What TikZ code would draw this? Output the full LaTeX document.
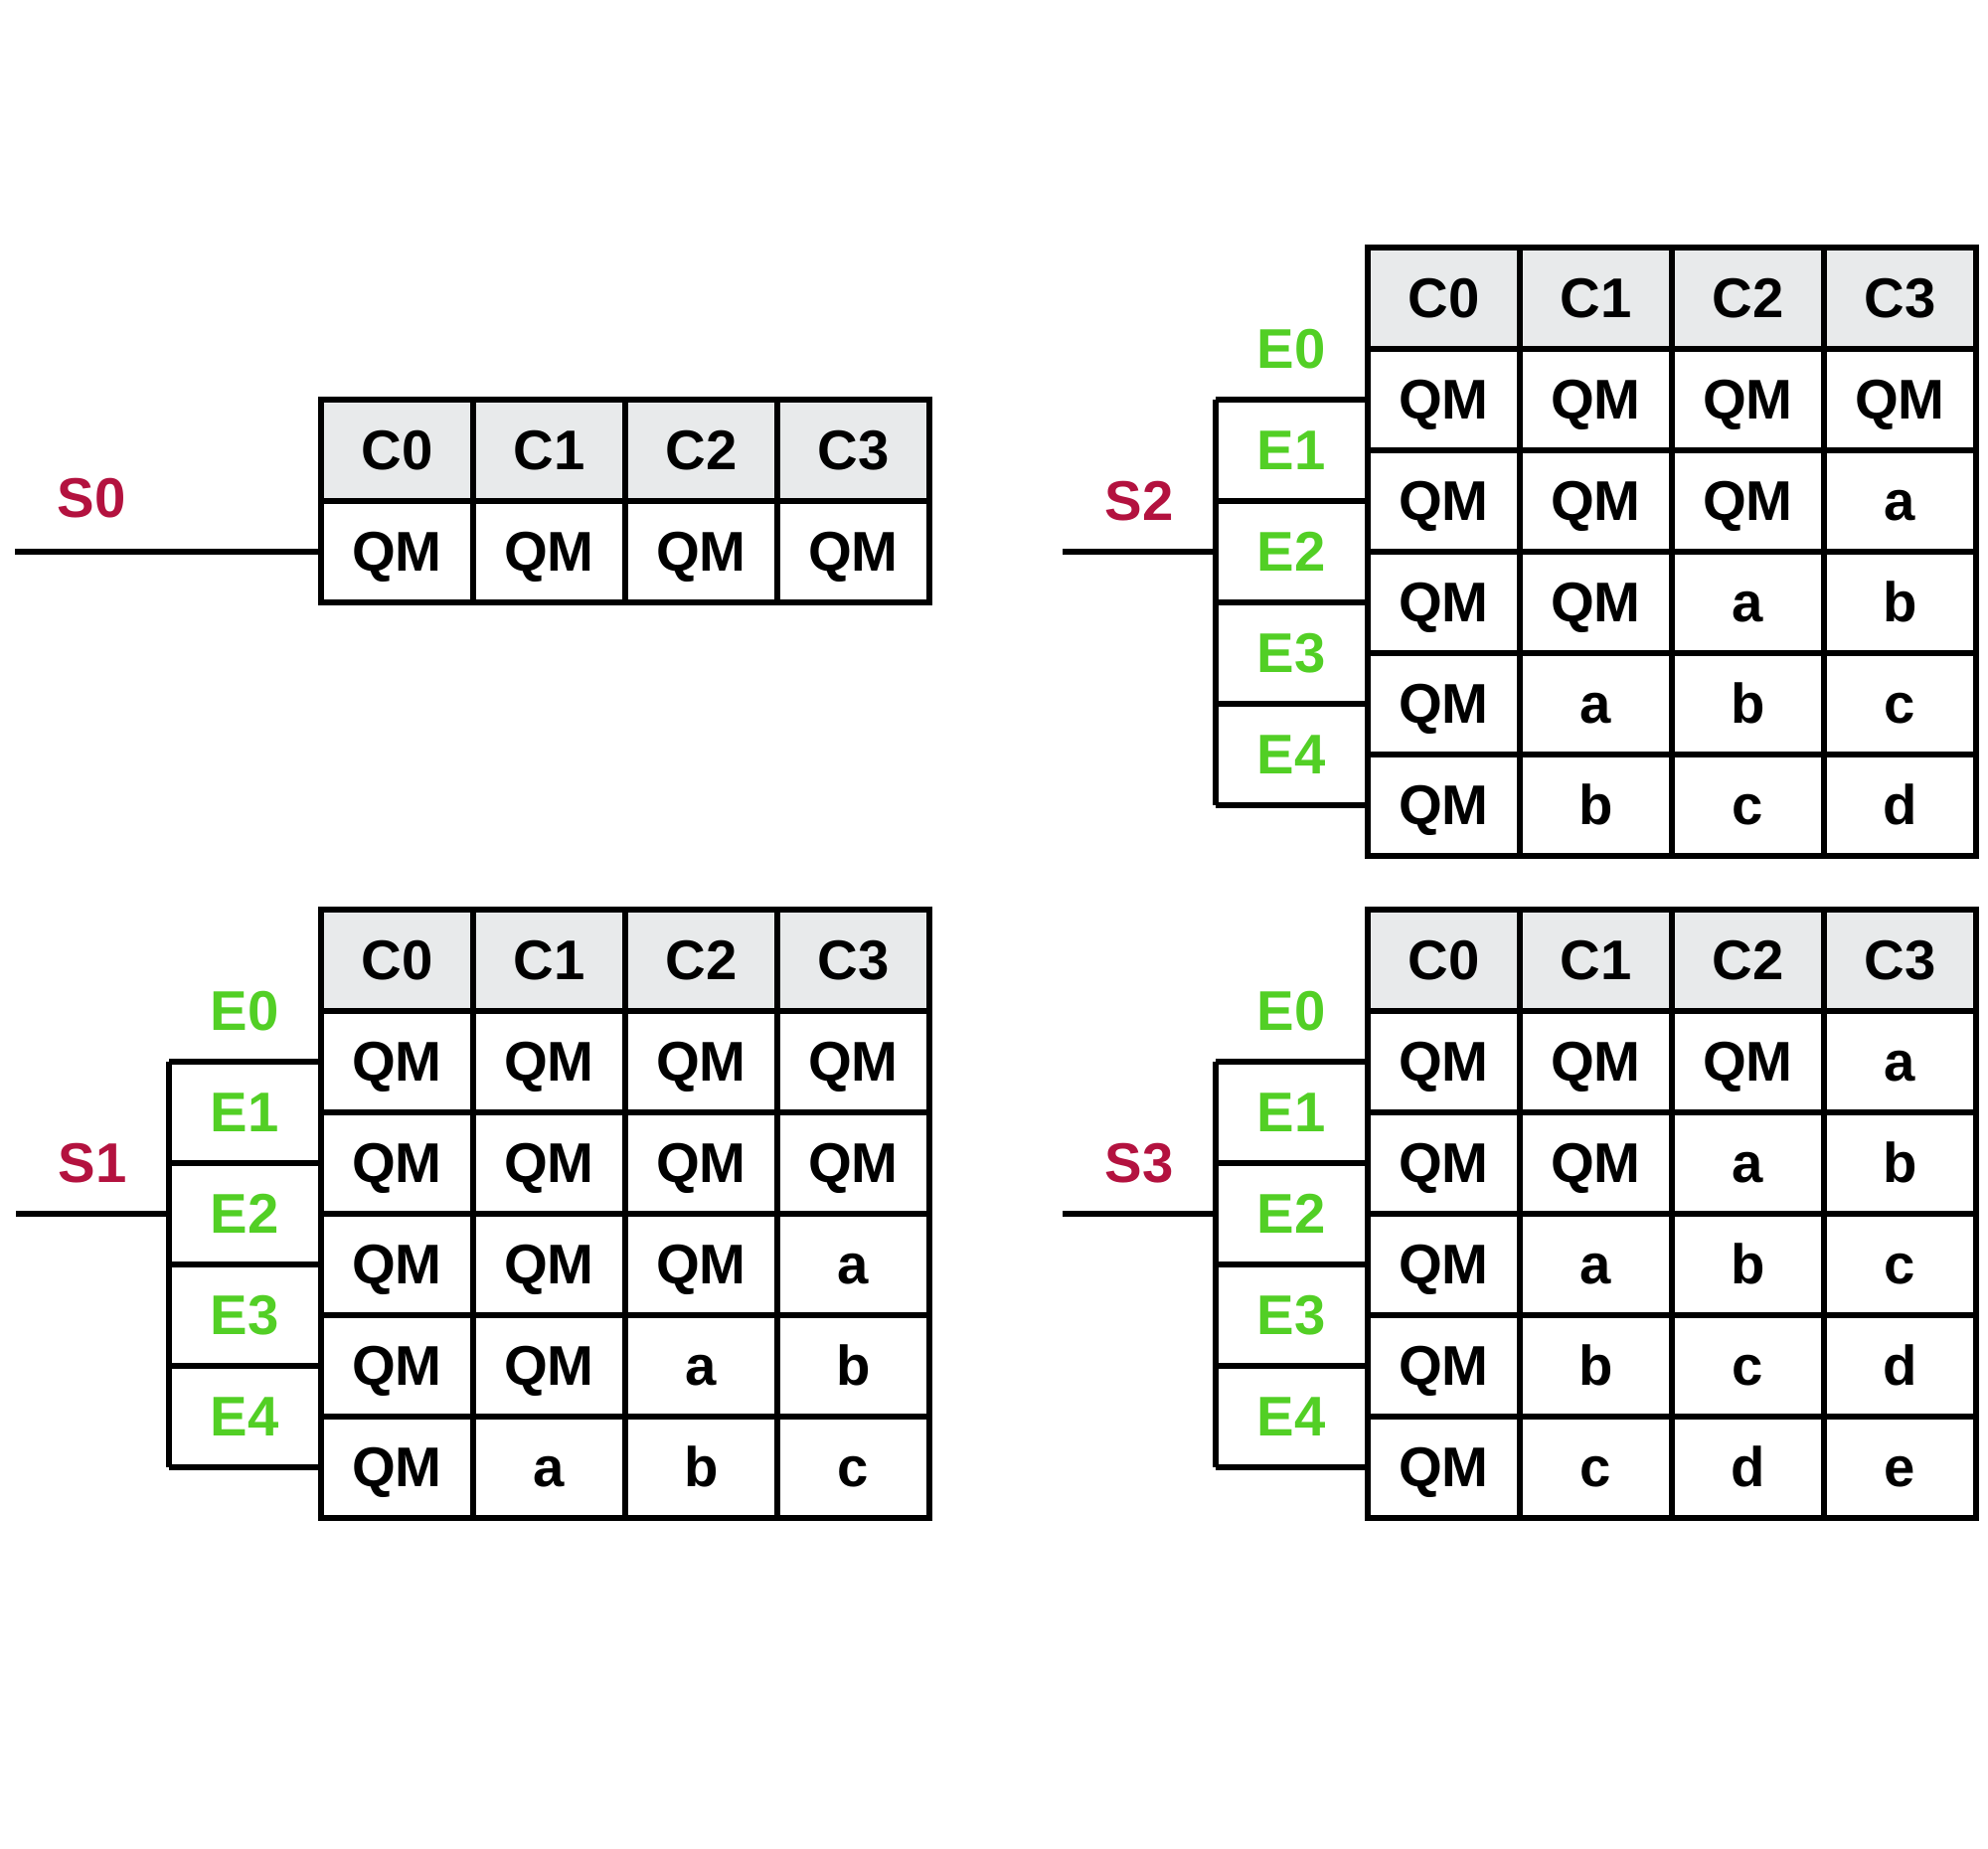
\documentclass[tikz,border=0pt]{standalone}
\usepackage{fontspec}
\setmainfont{Liberation Sans}
\usetikzlibrary{positioning}
\definecolor{headgray}{HTML}{E8EAEB}
\definecolor{scol}{HTML}{B3123F}
\definecolor{ecol}{HTML}{52CF25}

\begin{document}
\begin{tikzpicture}[
  x=0.01cm, y=-0.01cm, font=\fontsize{16}{19}\selectfont\bfseries, line width=1.5pt,
  txt/.style={text height=11.5pt, text depth=0.5pt},
  cell/.style={draw, txt, minimum width=1.53cm, minimum height=1.02cm, inner sep=0pt},
  head/.style={cell, fill=headgray},
  slab/.style={txt, text=scol}, elab/.style={txt, text=ecol}]
\useasboundingbox (0,0) rectangle (2000,1859);
\foreach \tb/\X/\Y in {s0/323/402, s1/323/915, s2/1376/249, s3/1376/915}
  \foreach \c in {0,...,3}
    \node[head] (\tb h\c) at (\X+153*\c+76.5, \Y+51) {C\c};
\foreach \tb/\X/\Y/\r/\cells in {
  s0/323/402/1/{QM,QM,QM,QM},
  s1/323/915/1/{QM,QM,QM,QM}, s1/323/915/2/{QM,QM,QM,QM}, s1/323/915/3/{QM,QM,QM,a},
  s1/323/915/4/{QM,QM,a,b}, s1/323/915/5/{QM,a,b,c},
  s2/1376/249/1/{QM,QM,QM,QM}, s2/1376/249/2/{QM,QM,QM,a}, s2/1376/249/3/{QM,QM,a,b},
  s2/1376/249/4/{QM,a,b,c}, s2/1376/249/5/{QM,b,c,d},
  s3/1376/915/1/{QM,QM,QM,a}, s3/1376/915/2/{QM,QM,a,b}, s3/1376/915/3/{QM,a,b,c},
  s3/1376/915/4/{QM,b,c,d}, s3/1376/915/5/{QM,c,d,e}}
  \foreach \txt [count=\c from 0] in \cells
    \node[cell] (\tb r\r c\c) at (\X+153*\c+76.5, \Y+102*\r+51) {\txt};
\node[slab] (s0) at (92,501) {S0};
\coordinate (s0in) at (15,555);
\draw (s0in) -- (s0r1c0.west);
\foreach \tb/\X/\Y/\lab in {s1/323/915/S1, s2/1376/249/S2, s3/1376/915/S3} {
  \node[slab] (\tb) at (\X-230,\Y+255) {\lab};
  \foreach \r in {1,...,5} {
    \coordinate (\tb b\r) at (\X-153,\Y+102*\r+51);
    \draw (\tb b\r) -- (\tb r\r c0.west);
  }
  \foreach \e in {0,...,4}
    \node[elab] (\tb e\e) at (\X-77,\Y+102*\e+102) {E\e};
  \draw (\tb b1) -- (\tb b5);
  \coordinate (\tb in) at (\X-307,\Y+306);
  \draw (\tb in) -- (\tb in -| \tb b1);
}
\end{tikzpicture}
\end{document}
